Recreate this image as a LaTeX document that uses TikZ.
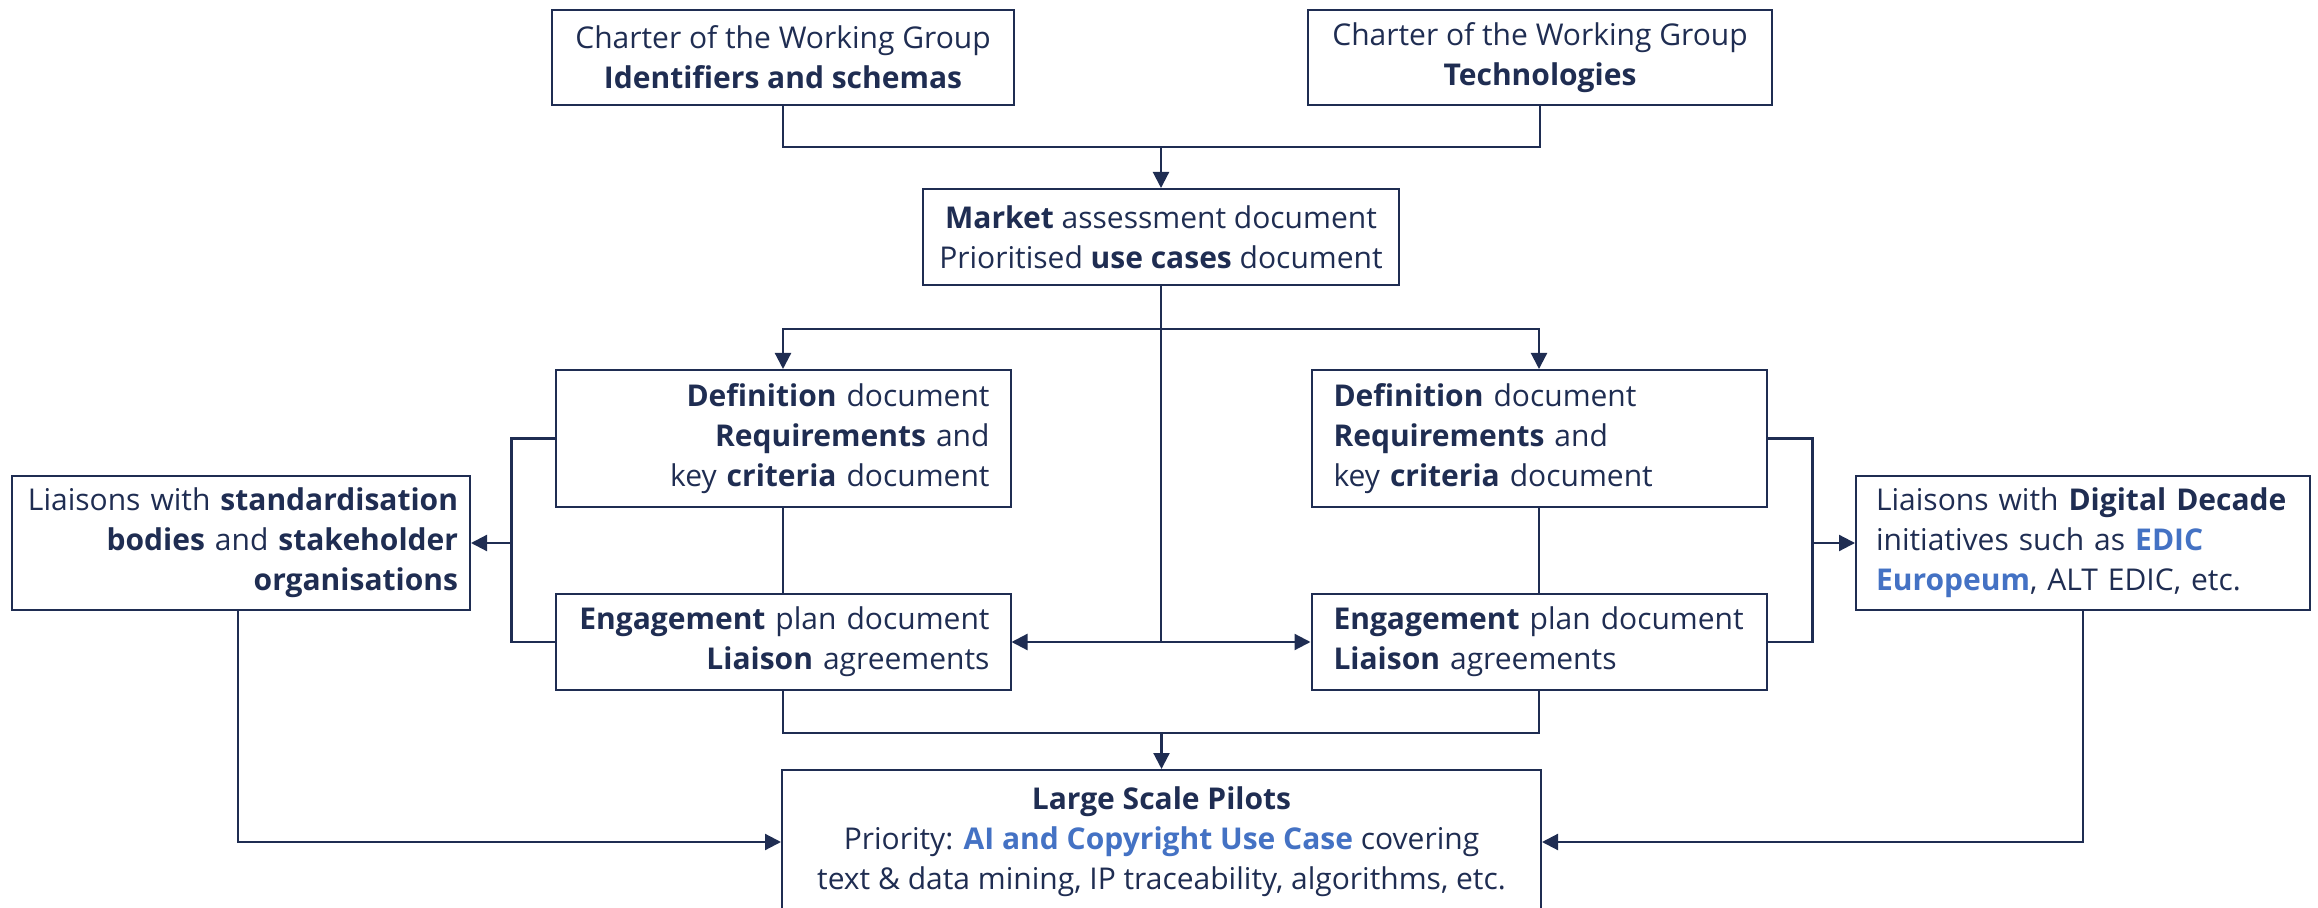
\documentclass[tikz,border=0pt]{standalone}
\usepackage{fontspec}
\setmainfont{Open Sans}
\usetikzlibrary{arrows.meta}
\definecolor{navy}{HTML}{1F2D52}
\definecolor{hl}{HTML}{4472C4}
\newcommand{\hlb}[1]{\textcolor{hl}{\textbf{#1}}}
\begin{document}
\begin{tikzpicture}[x=0.5pt, y=-0.5pt,
  font=\fontsize{15}{20}\selectfont,
  box/.style={draw=navy, line width=1pt, text=navy, fill=white, inner ysep=0pt},
  cbox/.style={box, align=center, inner xsep=4pt},
  rbox/.style={box, align=right, inner xsep=10.5pt},
  lbox/.style={box, align=left, inner xsep=11pt},
  link/.style={draw=navy, line width=1.1pt},
  arr/.style={link, -{Triangle[length=8pt, width=8pt]}}]
\useasboundingbox (0,0) rectangle (2318,908);

% Working group charters
\node[cbox, minimum width=231pt, minimum height=47.5pt] (ident) at (783,57.5)
  {Charter of the Working Group\\\textbf{Identifiers and schemas}};
\node[cbox, minimum width=232pt, minimum height=47.5pt] (tech) at (1540,57.5)
  {Charter of the Working Group\\\textbf{Technologies}};

% Market assessment
\node[cbox, minimum width=238pt, minimum height=48pt] (market) at (1161,237)
  {\textbf{Market} assessment document\\Prioritised \textbf{use cases} document};

% Definition documents
\node[rbox, text width=206.5pt, minimum height=68.5pt] (defL) at (783,438.5)
  {\textbf{Definition} document\\\textbf{Requirements} and\\key \textbf{criteria} document};
\node[lbox, text width=205.5pt, minimum height=68.5pt] (defR) at (1539,438.5)
  {\textbf{Definition} document\\\textbf{Requirements} and\\key \textbf{criteria} document};

% Engagement plans
\node[rbox, text width=206.5pt, minimum height=48pt] (engL) at (783,642)
  {\textbf{Engagement} plan document\\\textbf{Liaison} agreements};
\node[lbox, text width=205.5pt, minimum height=48pt] (engR) at (1539,642)
  {\textbf{Engagement} plan document\\\textbf{Liaison} agreements};

% Liaisons
\node[rbox, inner xsep=6pt, text width=217pt, minimum height=67pt] (liaL) at (241,543)
  {Liaisons with \textbf{standardisation}\\\textbf{bodies} and \textbf{stakeholder}\\\textbf{organisations}};
\node[lbox, inner xsep=10pt, text width=207pt, minimum height=67pt] (liaR) at (2083,543)
  {Liaisons with \textbf{Digital Decade}\\initiatives such as \hlb{EDIC}\\\hlb{Europeum}, ALT EDIC, etc.};

% Large scale pilots (runs past the lower edge)
\node[cbox, minimum width=379.5pt, minimum height=72pt] (lsp) at (1161.5,842)
  {\textbf{Large Scale Pilots}\\Priority: \hlb{AI and Copyright Use Case} covering\\text \& data mining, IP traceability, algorithms, etc.};

% Charters merge into the market assessment
\draw[link] (ident.south) -- ++(0,41) -| (tech.south);
\path (ident.south) ++(0,41) coordinate (topj);
\draw[arr] (market.north |- topj) -- (market.north);

% Market assessment splits to both tracks
\path (market.south) ++(0,43) coordinate (midj);
\draw[link] (market.south) -- (market.south |- engL.east);
\draw[arr] (midj) -| (defL.north);
\draw[arr] (midj) -| (defR.north);
\draw[arr] (market.south |- engL.east) -- (engL.east);
\draw[arr] (market.south |- engL.east) -- (engR.west);

% Definition to engagement
\draw[link] (defL.south) -- (engL.north);
\draw[link] (defR.south) -- (engR.north);

% Brackets to the liaison boxes
\draw[link] (defL.west) -- ++(-43,0) coordinate (lb) |- (engL.west);
\draw[arr] (lb |- liaL.east) -- (liaL.east);
\draw[link] (defR.east) -- ++(45,0) coordinate (rb) |- (engR.east);
\draw[arr] (rb |- liaR.west) -- (liaR.west);

% Everything feeds the large scale pilots
\draw[link] (engL.south) -- ++(0,42) -| (engR.south);
\path (engL.south) ++(0,42) coordinate (botj);
\draw[arr] (lsp.north |- botj) -- (lsp.north);
\draw[arr] ([xshift=-1.5pt]liaL.south) |- (lsp.west);
\draw[arr] (liaR.south) |- (lsp.east);
\end{tikzpicture}
\end{document}
